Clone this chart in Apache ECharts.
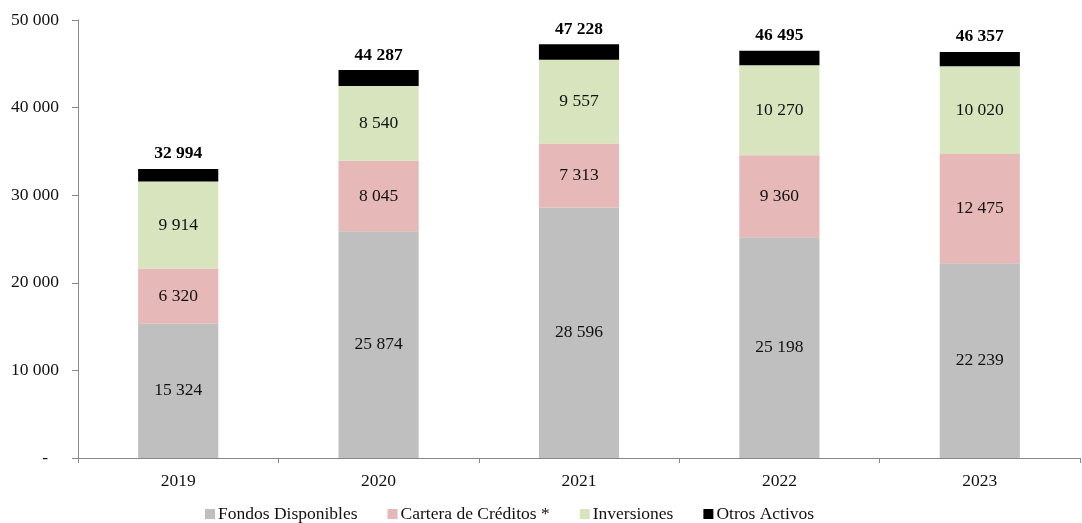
<!DOCTYPE html>
<html>
<head>
<meta charset="utf-8">
<script src="https://cdn.jsdelivr.net/npm/echarts@6/dist/echarts.min.js"></script>
<style>
  html, body { margin: 0; padding: 0; background: #fff; }
  #chart { width: 1082px; height: 523px; }
</style>
</head>
<body>
<div id="chart"></div>
<script>
// Activos por año (stacked)
const years = ['2019', '2020', '2021', '2022', '2023'];
const fondosDisponibles = [15324, 25874, 28596, 25198, 22239];
const carteraCreditos = [6320, 8045, 7313, 9360, 12475];
const inversiones = [9914, 8540, 9557, 10270, 10020];
const otrosActivos = [1436, 1828, 1762, 1667, 1623];
const totales = [32994, 44287, 47228, 46495, 46357];
const yTicks = [0, 10000, 20000, 30000, 40000, 50000];

const FONT = '"Liberation Serif", "DejaVu Serif", serif';
const FS = 17.5;

function fmt(v) {
  if (v === 0) return '-';
  return String(Math.round(v)).replace(/\B(?=(\d{3})+(?!\d))/g, ' ');
}

const chart = echarts.init(document.getElementById('chart'));

function seg(name, data, color, showLabel) {
  return {
    name: name,
    type: 'bar',
    stack: 'total',
    data: data,
    barWidth: '40%',
    itemStyle: { color: color },
    label: {
      show: showLabel,
      position: 'inside',
      color: '#111',
      fontFamily: FONT,
      fontSize: FS,
      formatter: p => fmt(p.value)
    }
  };
}

const otros = seg('Otros Activos', otrosActivos, '#000000', true);
otros.label = {
  show: true,
  position: 'top',
  distance: 6,
  color: '#000',
  fontFamily: FONT,
  fontSize: FS,
  fontWeight: 'bold',
  formatter: p => fmt(totales[p.dataIndex])
};

chart.setOption({
  animation: false,
  backgroundColor: '#fff',
  textStyle: { fontFamily: FONT },
  grid: { left: 78, right: 2, top: 20, bottom: 65, containLabel: false },
  legend: {
    top: 500,
    left: 200,
    itemWidth: 10,
    itemHeight: 10,
    itemGap: 30,
    icon: 'rect',
    textStyle: { fontFamily: FONT, fontSize: FS, color: '#111', padding: [0, 0, 0, -2] },
    data: ['Fondos Disponibles', 'Cartera de Créditos *', 'Inversiones', 'Otros Activos']
  },
  xAxis: {
    type: 'category',
    data: years,
    axisLine: { lineStyle: { color: '#888', width: 1 } },
    axisTick: { show: true, length: 5, alignWithLabel: false, lineStyle: { color: '#888' } },
    axisLabel: { color: '#111', fontFamily: FONT, fontSize: FS, margin: 14 }
  },
  yAxis: {
    type: 'value',
    min: yTicks[0],
    max: yTicks[yTicks.length - 1],
    interval: yTicks[1] - yTicks[0],
    splitLine: { show: false },
    axisLine: { show: true, lineStyle: { color: '#888', width: 1 } },
    axisTick: { show: true, length: 6, lineStyle: { color: '#888' } },
    axisLabel: {
      color: '#111', fontFamily: FONT, fontSize: FS, margin: 19,
      formatter: v => v === 0 ? '{d|-}' : fmt(v),
      rich: { d: { fontFamily: FONT, fontSize: FS, color: '#111', padding: [0, 11, 0, 0] } }
    }
  },
  series: [
    seg('Fondos Disponibles', fondosDisponibles, '#bfbfbf', true),
    seg('Cartera de Créditos *', carteraCreditos, '#e6b9b8', true),
    seg('Inversiones', inversiones, '#d7e4bd', true),
    otros
  ]
});
</script>
</body>
</html>
